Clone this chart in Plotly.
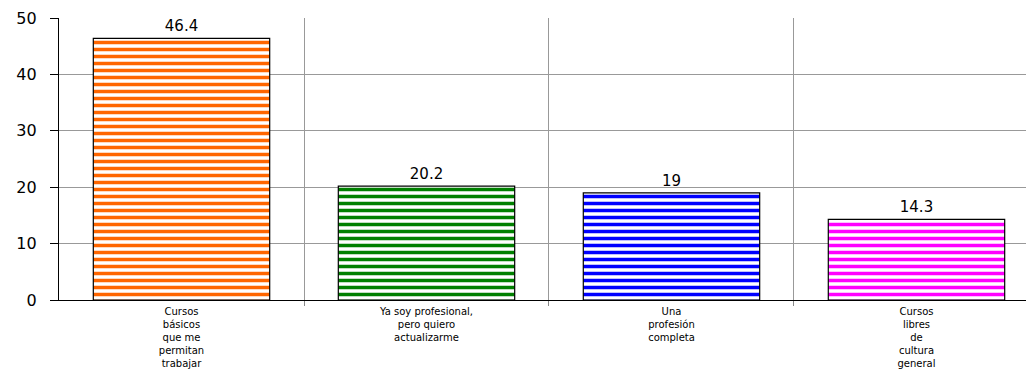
import plotly.graph_objects as go

categories = [
    "Cursos<br>básicos<br>que me<br>permitan<br>trabajar",
    "Ya soy profesional,<br>pero quiero<br>actualizarme",
    "Una<br>profesión<br>completa",
    "Cursos<br>libres<br>de<br>cultura<br>general",
]
values = [46.4, 20.2, 19, 14.3]
value_labels = ["46.4", "20.2", "19", "14.3"]
colors = ["#FF6600", "#008000", "#0000FF", "#FF00FF"]
y_ticks = [0, 10, 20, 30, 40, 50]

positions = list(range(len(categories)))
FONT = "DejaVu Sans, Verdana, Arial"

fig = go.Figure()
fig.add_trace(go.Bar(
    x=positions,
    y=values,
    text=value_labels,
    textposition="outside",
    textfont=dict(family=FONT, size=15, color="black"),
    cliponaxis=False,
    width=0.72,
    marker=dict(
        color="white",
        line=dict(color="black", width=1.2),
        pattern=dict(shape="-", fgcolor=colors, bgcolor="white",
                     size=7, solidity=0.5, fgopacity=1, fillmode="overlay"),
    ),
    showlegend=False,
))

fig.update_layout(
    width=1026, height=371,
    margin=dict(l=59, r=0, t=18, b=71),
    paper_bgcolor="white", plot_bgcolor="white",
    font=dict(family=FONT, color="black"),
    xaxis=dict(
        range=[-0.5, 3.447], automargin=False,
        tickmode="array", tickvals=positions, ticktext=categories,
        tickfont=dict(size=10), ticks="", showgrid=False,
        ticklabelstandoff=2,
        showline=True, linecolor="black", linewidth=1.2,
        zeroline=False,
        minor=dict(tickmode="array", tickvals=[0.5, 1.5, 2.5], showgrid=True,
                   gridcolor="#999999", gridwidth=1, ticks="outside",
                   ticklen=5, tickcolor="#888888"),
    ),
    yaxis=dict(
        range=[0, 50], tickmode="array", tickvals=y_ticks, automargin=False,
        tickfont=dict(size=16), ticks="outside", ticklen=8, tickcolor="black",
        ticklabelstandoff=10,
        showgrid=True, gridcolor="#999999", gridwidth=1,
        showline=True, linecolor="black", linewidth=1.2, zeroline=False,
    ),
)

fig.write_html("out.html")
